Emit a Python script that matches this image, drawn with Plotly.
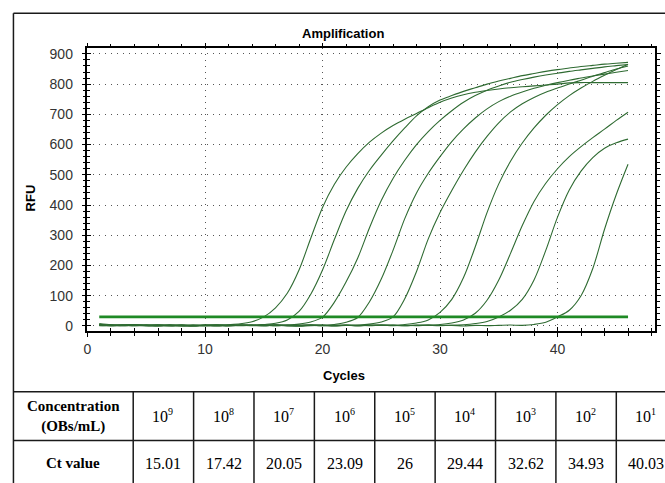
import plotly.graph_objects as go

# ---------------- data ----------------
cycles = list(range(1, 47))
threshold = 30

c1 = [8, 4, 3, 4, 2, 3, 1, 2, 3, 1, 2,
      4, 7, 14, 30, 60, 108, 185, 290, 392, 468,
      525, 570, 608, 638, 663, 684, 703, 722, 740, 754,
      765, 773, 779, 784, 788, 791, 794, 797, 800, 804,
      805, 805, 805, 805, 805]
c2 = [5, 3, 2, 4, 1, 3, 2, 0, 2, 3, 1, 2, 3, 2,
      5, 9, 20, 48, 105, 185, 285, 380, 455, 515,
      565, 612, 655, 695, 725, 747, 762, 776, 788, 800,
      810, 819, 828, 835, 842, 848, 853, 858, 862, 866,
      869, 872]
c3 = [4, 2, 3, 1, 2, 3, 0, 2, 1, 3, 2, 1, 2, 3, 1, 2, 3,
      6, 13, 29, 78, 145, 225, 325, 415, 488, 548,
      600, 643, 680, 712, 740, 762, 780, 794, 806, 815,
      823, 830, 836, 842, 847, 852, 857, 861, 865]
c4 = [3, 1, 2, 4, 2, 1, 3, 2, 0, 2, 3, 1, 2, 2, 3, 1, 2, 3, 2, 1,
      5, 12, 28, 80, 155, 250, 355, 440, 505, 560,
      610, 652, 688, 718, 742, 760, 774, 786, 796, 805,
      813, 820, 827, 833, 839, 845]
c5 = [2, 3, 1, 2, 4, 2, 1, 3, 2, 1, 0, 2, 3, 1, 2, 4, 2, 1, 3, 2, 1, 2, 3,
      6, 13, 30, 90, 180, 288, 375, 448, 515, 575,
      627, 672, 708, 735, 756, 773, 787, 800, 813, 826,
      838, 850, 860]
c6 = [3, 2, 1, 3, 2, 0, 2, 3, 1, 2, 1, 3, 2, 2, 1, 3, 0, 2, 3, 1, 2, 3, 1, 2, 2, 3,
      5, 10, 20, 45, 88, 160, 262, 375, 470, 545,
      605, 655, 697, 732, 762, 787, 809, 829, 848, 866]
c7 = [2, 1, 3, 2, 1, 2, 3, 0, 2, 1, 3, 2, 1, 2, 3, 2, 1, 0, 2, 3, 1, 2, 2, 1, 3, 2, 1, 2, 3,
      5, 10, 20, 42, 85, 152, 240, 332, 412, 472,
      520, 560, 593, 623, 651, 680, 707]
c8 = [1, 2, 3, 1, 2, 0, 3, 2, 1, 2, 3, 1, 2, 2, 1, 3, 2, 0, 1, 2, 3, 2, 1, 2, 3, 1, 2, 1, 3, 2, 2,
      4, 8, 15, 30, 52, 88, 152, 250, 360, 450,
      512, 557, 588, 606, 618]
c9 = [3, 1, 2, 2, 1, 3, 2, 1, 0, 2, 3, 1, 2, 2, 3, 1, 2, 1, 3, 2, 0, 2, 1, 3, 2, 2, 1, 3, 2, 1,
      2, 0, 2, 1, 2, 3, 2,
      5, 12, 30, 52, 100, 190, 320, 435, 535]
curves = [c1, c2, c3, c4, c5, c6, c7, c8, c9]

conc_base = "10"
conc_exponents = [9, 8, 7, 6, 5, 4, 3, 2, 1]
ct_values = [15.01, 17.42, 20.05, 23.09, 26, 29.44, 32.62, 34.93, 40.03]

x_ticks = [0, 10, 20, 30, 40]
y_ticks = [0, 100, 200, 300, 400, 500, 600, 700, 800, 900]

# ---------------- geometry helpers ----------------
W, H = 665, 483
def px(v):
    return v / W
def py(v):
    return 1 - v / H

fig = go.Figure()

CURVE_COLOR = "#2f6b32"
for c in curves:
    fig.add_trace(go.Scatter(
        x=cycles, y=c, mode="lines",
        line=dict(color=CURVE_COLOR, width=1.1, shape="spline", smoothing=0.9),
        showlegend=False, hoverinfo="skip"))

fig.add_trace(go.Scatter(
    x=[cycles[0], cycles[-1]], y=[threshold, threshold], mode="lines",
    line=dict(color="#1f8a25", width=2.6),
    showlegend=False, hoverinfo="skip"))

# invisible trace to show overlay axes (for crossing ticks)
fig.add_trace(go.Scatter(x=[None], y=[None], xaxis="x2", yaxis="y2",
                         showlegend=False, hoverinfo="skip"))

xr = [0, 48.3]
yr = [-16.3, 918]
xdom = [px(84), px(655)]
ydom = [py(332), py(46)]
grid_dash = "1px,5px"
tick_font = dict(family="Liberation Sans, Arial, sans-serif", size=14, color="#333333")

fig.update_layout(
    width=W, height=H,
    margin=dict(l=0, r=0, t=0, b=0),
    paper_bgcolor="white", plot_bgcolor="white",
    xaxis=dict(domain=xdom, range=xr, tickvals=x_ticks, showgrid=True,
               gridcolor="#555555", griddash=grid_dash, gridwidth=1,
               showline=True, linecolor="black", linewidth=1.5, mirror="ticks",
               ticks="outside", ticklen=4, tickwidth=1.2, tickcolor="black",
               minor=dict(dtick=2, tick0=0, ticks="outside", ticklen=3, tickcolor="black",
                          showgrid=False),
               zeroline=False, tickfont=tick_font, ticklabelstandoff=1),
    yaxis=dict(domain=ydom, range=yr, tickvals=y_ticks, showgrid=True,
               gridcolor="#555555", griddash=grid_dash, gridwidth=1,
               showline=True, linecolor="black", linewidth=1.5, mirror="ticks",
               ticks="outside", ticklen=4, tickwidth=1.2, tickcolor="black",
               minor=dict(dtick=20, tick0=0, ticks="outside", ticklen=3, tickcolor="black",
                          showgrid=False),
               zeroline=False, tickfont=tick_font, ticklabelstandoff=6),
    xaxis2=dict(domain=xdom, range=xr, overlaying="x", anchor="y2", side="bottom",
                tickvals=x_ticks, ticks="inside", ticklen=4, tickwidth=1.2, tickcolor="black",
                minor=dict(dtick=2, tick0=0, ticks="inside", ticklen=3, tickcolor="black"),
                showticklabels=False, showgrid=False, showline=False, zeroline=False),
    yaxis2=dict(domain=ydom, range=yr, overlaying="y", anchor="x2", side="left",
                tickvals=y_ticks, ticks="inside", ticklen=4, tickwidth=1.2, tickcolor="black",
                minor=dict(dtick=20, tick0=0, ticks="inside", ticklen=3, tickcolor="black"),
                showticklabels=False, showgrid=False, showline=False, zeroline=False),
)

title_font = dict(family="Liberation Sans, Arial, sans-serif", size=13, color="black")
fig.add_annotation(x=px(341), y=py(31), xref="paper", yref="paper",
                   text="<b>Amplification</b>", showarrow=False, font=title_font,
                   xanchor="center", yanchor="middle")
fig.add_annotation(x=px(342), y=py(377), xref="paper", yref="paper",
                   text="<b>Cycles</b>", showarrow=False, font=title_font,
                   xanchor="center", yanchor="middle")
fig.add_annotation(x=px(27), y=py(197), xref="paper", yref="paper",
                   text="<b>RFU</b>", showarrow=False, font=title_font, textangle=-90,
                   xanchor="center", yanchor="middle")

# ---------------- outer frame + table ----------------
line_style = dict(color="#1a1a1a", width=1.5)
table_top, row_split = 393.7, 443
left_edge, first_col = 9.5, 130
col_w = 60.75

shapes = []
shapes.append(dict(type="line", xref="paper", yref="paper",
                   x0=px(left_edge), x1=px(W + 5), y0=py(10.5), y1=py(10.5), line=line_style))
shapes.append(dict(type="line", xref="paper", yref="paper",
                   x0=px(left_edge), x1=px(left_edge), y0=py(10.5), y1=py(H + 5), line=line_style))
for yy in (table_top, row_split):
    shapes.append(dict(type="line", xref="paper", yref="paper",
                       x0=px(left_edge), x1=px(W + 5), y0=py(yy), y1=py(yy), line=line_style))
col_edges = [first_col + i * col_w for i in range(len(ct_values))]
for xx in col_edges:
    shapes.append(dict(type="line", xref="paper", yref="paper",
                       x0=px(xx), x1=px(xx), y0=py(table_top), y1=py(H + 5), line=line_style))
fig.update_layout(shapes=shapes)

serif_b = dict(family="Liberation Serif, Times New Roman, serif", size=15, color="black")
serif = dict(family="Liberation Serif, Times New Roman, serif", size=16, color="black")
serif_sup = dict(family="Liberation Serif, Times New Roman, serif", size=10, color="black")
row1_y = (table_top + row_split) / 2 + 0.5
row2_y = 466
fig.add_annotation(x=px((left_edge + first_col) / 2), y=py(row1_y), xref="paper", yref="paper",
                   text="<b>Concentration</b><br><b>(OBs/mL)</b>", showarrow=False,
                   font=serif_b, xanchor="center", yanchor="middle")
fig.add_annotation(x=px((left_edge + first_col) / 2), y=py(row2_y), xref="paper", yref="paper",
                   text="<b>Ct value</b>", showarrow=False,
                   font=serif_b, xanchor="center", yanchor="middle")
for i, (e, ct) in enumerate(zip(conc_exponents, ct_values)):
    cx = col_edges[i] + col_w / 2
    split_x = cx + 5.0
    fig.add_annotation(x=px(split_x), y=py(row1_y), xref="paper", yref="paper",
                       text=conc_base, showarrow=False, font=serif, borderpad=0,
                       xanchor="right", yanchor="middle", xshift=1)
    fig.add_annotation(x=px(split_x), y=py(row1_y - 5.5), xref="paper", yref="paper",
                       text=str(e), showarrow=False, font=serif_sup, borderpad=0,
                       xanchor="left", yanchor="middle", xshift=-1)
    fig.add_annotation(x=px(cx), y=py(row2_y), xref="paper", yref="paper",
                       text=f"{ct:g}", showarrow=False, font=serif,
                       xanchor="center", yanchor="middle")

fig.write_html("out.html")
